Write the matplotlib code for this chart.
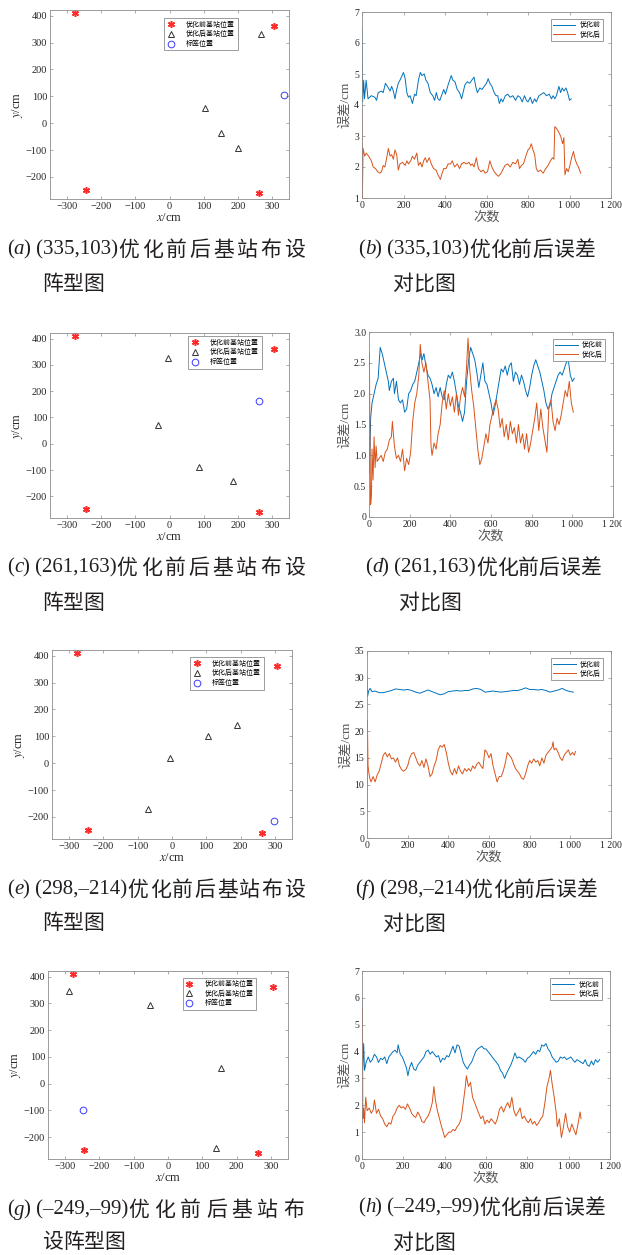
import matplotlib
matplotlib.use("Agg")
import matplotlib.pyplot as plt

plt.rcParams["font.family"] = ["Liberation Serif", "Noto Sans CJK SC"]
plt.rcParams["mathtext.fontset"] = "stix"
plt.rcParams["axes.unicode_minus"] = True

# base stations before optimisation (same in every layout)
before_x = [-278, -245, 305, 262]
before_y = [410, -248, 360, -260]

# optimised stations and tag position for each test point
a_tri_x = [103, 150, 200, 268]
a_tri_y = [55, -37, -93, 330]
a_tag = (335, 103)

c_tri_x = [-3, -35, 85, 185]
c_tri_y = [325, 70, -88, -140]
c_tag = (261, 163)

e_tri_x = [-70, -5, 105, 190]
e_tri_y = [-170, 20, 102, 142]
e_tag = (298, -214)

g_tri_x = [-288, -53, 155, 140]
g_tri_y = [345, 295, 57, -241]
g_tag = (-249, -99)

layout_labels = ["优化前基站位置", "优化后基站位置", "标签位置"]
series_labels = ["优化前", "优化后"]

# error curves, (step, error in cm)
b_before = [(0, 6.5), (3, 4.1), (8, 4.8), (12, 4.2), (20, 4.8), (29, 4.2), (45, 4.3), (62, 4.25),
            (70, 4.15), (78, 4.4), (94, 4.45), (102, 4.4), (113, 4.7), (127, 4.55), (135, 4.45),
            (143, 4.6), (151, 4.45), (159, 4.2), (167, 4.5), (175, 4.7), (183, 4.8), (200, 5.05),
            (208, 4.85), (216, 4.4), (224, 4.25), (232, 4.3), (243, 4.05), (253, 4.35), (261, 4.3),
            (272, 4.8), (281, 5.05), (289, 4.95), (300, 5.0), (308, 4.8), (318, 4.7), (329, 4.4),
            (341, 4.3), (350, 4.15), (358, 4.4), (366, 4.2), (375, 4.15), (383, 4.3), (394, 4.5),
            (402, 4.35), (415, 4.65), (430, 4.95), (438, 4.8), (448, 4.75), (459, 4.5), (470, 4.4),
            (480, 4.2), (487, 4.4), (496, 4.65), (508, 4.75), (519, 4.7), (529, 4.8), (540, 4.9),
            (548, 4.6), (556, 4.4), (568, 4.55), (578, 4.5), (589, 4.6), (600, 4.7), (608, 4.85),
            (616, 4.7), (626, 4.6), (637, 4.4), (646, 4.3), (654, 4.3), (662, 4.05), (670, 4.2),
            (678, 4.1), (691, 4.3), (702, 4.35), (714, 4.25), (727, 4.3), (740, 4.15), (751, 4.3),
            (762, 4.25), (772, 4.1), (783, 4.3), (792, 4.15), (800, 4.1), (811, 4.25), (821, 4.05),
            (832, 4.2), (840, 4.1), (853, 4.3), (865, 4.35), (876, 4.4), (889, 4.3), (902, 4.35),
            (913, 4.2), (921, 4.3), (929, 4.2), (937, 4.3), (949, 4.6), (957, 4.4), (965, 4.55),
            (973, 4.45), (983, 4.55), (991, 4.4), (1000, 4.15), (1008, 4.2)]
b_after = [(0, 3.9), (2, 1.0), (5, 2.6), (13, 2.35), (21, 2.45), (32, 2.35), (45, 2.2), (54, 2.0),
           (65, 1.95), (75, 1.85), (86, 1.8), (94, 1.85), (102, 2.05), (110, 2.0), (118, 2.25),
           (127, 2.6), (135, 2.35), (143, 2.4), (151, 2.25), (159, 2.55), (167, 2.4), (175, 1.9),
           (183, 2.1), (195, 2.15), (208, 2.05), (216, 2.2), (224, 2.1), (235, 2.2), (243, 2.35),
           (253, 2.25), (264, 2.45), (272, 2.05), (281, 2.15), (289, 2.0), (297, 2.2), (305, 2.3),
           (313, 2.15), (324, 2.3), (334, 2.1), (345, 1.95), (357, 1.9), (366, 1.75), (378, 1.6),
           (386, 1.8), (394, 1.95), (405, 1.95), (415, 2.1), (427, 2.1), (435, 2.2), (446, 2.0),
           (459, 2.1), (470, 1.95), (480, 2.1), (491, 2.15), (503, 2.1), (516, 2.15), (524, 2.05),
           (532, 2.1), (540, 2.0), (551, 2.3), (561, 1.95), (573, 1.85), (584, 1.9), (594, 1.8),
           (605, 1.85), (616, 2.2), (626, 2.0), (637, 1.85), (649, 1.75), (658, 1.7), (670, 1.8),
           (678, 1.9), (689, 2.05), (702, 2.1), (714, 2.0), (727, 2.15), (740, 2.1), (751, 2.25),
           (759, 1.95), (768, 2.05), (778, 2.1), (792, 2.4), (800, 2.55), (808, 2.6), (816, 2.75),
           (824, 2.55), (832, 2.4), (840, 1.95), (848, 1.85), (860, 1.9), (873, 1.8), (886, 1.95),
           (897, 2.05), (908, 2.2), (918, 2.3), (925, 2.25), (929, 3.3), (937, 3.25), (946, 3.15),
           (957, 3.0), (967, 2.75), (973, 2.95), (978, 1.75), (986, 1.95), (994, 1.85), (1002, 2.05),
           (1010, 2.3), (1019, 2.5), (1027, 2.25), (1035, 2.1), (1043, 2.0), (1054, 1.8)]

d_before = [(0, 1.3), (3, 0.7), (8, 1.6), (15, 1.85), (25, 2.0), (35, 2.15), (45, 2.25), (55, 2.75),
            (65, 2.65), (75, 2.5), (85, 2.35), (95, 2.2), (100, 2.05), (110, 2.2), (120, 2.25),
            (125, 2.0), (135, 2.2), (145, 1.9), (155, 1.85), (165, 1.9), (175, 1.7), (185, 1.75),
            (195, 2.0), (205, 2.05), (215, 2.15), (225, 2.2), (235, 2.35), (245, 2.5), (255, 2.65),
            (262, 2.55), (270, 2.65), (280, 2.45), (290, 2.3), (300, 2.25), (310, 2.15), (320, 2.0),
            (330, 2.1), (340, 1.95), (350, 2.1), (360, 1.95), (370, 1.9), (380, 2.15), (390, 2.3),
            (400, 2.25), (410, 2.35), (420, 2.2), (430, 2.0), (440, 1.8), (450, 1.7), (460, 1.55),
            (470, 1.7), (480, 2.2), (490, 2.55), (500, 2.75), (510, 2.65), (520, 2.55), (530, 2.35),
            (540, 2.1), (550, 2.3), (560, 2.5), (570, 2.2), (580, 2.15), (590, 2.0), (600, 1.85),
            (610, 1.65), (620, 1.8), (630, 2.0), (640, 2.2), (650, 2.4), (660, 2.35), (670, 2.45),
            (680, 2.3), (690, 2.45), (700, 2.5), (710, 2.2), (720, 2.35), (730, 2.3), (740, 2.15),
            (750, 2.3), (760, 2.2), (770, 2.05), (780, 1.95), (790, 2.1), (800, 2.3), (810, 2.45),
            (820, 2.55), (830, 2.45), (840, 2.35), (850, 2.2), (860, 2.05), (870, 1.85), (880, 1.75),
            (890, 1.8), (900, 2.0), (910, 2.1), (920, 2.2), (930, 2.3), (940, 2.35), (950, 2.3),
            (960, 2.4), (970, 2.5), (980, 2.55), (990, 2.3), (1000, 2.2), (1010, 2.25)]
d_after = [(0, 2.45), (2, 2.65), (5, 1.0), (8, 0.2), (12, 0.35), (15, 1.1), (20, 0.6), (25, 1.3),
           (30, 0.8), (35, 1.15), (40, 0.9), (50, 0.95), (60, 1.0), (70, 0.9), (80, 1.05), (90, 1.1),
           (100, 1.25), (110, 1.3), (115, 1.55), (125, 1.15), (135, 0.95), (145, 1.0), (155, 0.9),
           (165, 1.1), (175, 0.75), (185, 0.95), (195, 0.85), (205, 1.05), (215, 1.55), (225, 1.85),
           (235, 2.0), (245, 2.3), (252, 2.8), (260, 2.5), (270, 2.35), (280, 2.5), (290, 2.2),
           (300, 1.9), (305, 1.15), (310, 1.0), (320, 1.2), (330, 1.1), (340, 1.35), (350, 1.5),
           (360, 1.85), (370, 2.05), (380, 1.75), (390, 2.0), (400, 1.8), (410, 1.95), (420, 1.7),
           (430, 2.0), (440, 1.65), (450, 1.95), (460, 2.1), (470, 1.95), (480, 2.45), (487, 2.9),
           (495, 2.4), (505, 2.05), (515, 1.8), (525, 1.45), (535, 1.1), (545, 0.85), (555, 0.95),
           (565, 1.15), (575, 1.35), (585, 1.2), (595, 1.5), (605, 1.65), (615, 1.8), (625, 1.9),
           (635, 1.75), (645, 1.45), (655, 1.6), (665, 1.3), (675, 1.5), (685, 1.25), (695, 1.55),
           (705, 1.35), (715, 1.45), (725, 1.2), (735, 1.5), (745, 1.2), (755, 1.35), (765, 1.1),
           (775, 1.35), (785, 1.05), (795, 1.2), (805, 1.4), (815, 1.6), (825, 1.85), (835, 1.4),
           (845, 1.75), (855, 1.45), (865, 1.25), (875, 1.05), (885, 1.8), (895, 1.9), (905, 1.55),
           (915, 1.4), (925, 1.6), (935, 1.5), (945, 1.65), (955, 1.85), (965, 2.05), (975, 1.95),
           (985, 2.2), (995, 1.85), (1005, 1.7)]

f_before = [(0, 30.0), (3, 26.5), (8, 27.5), (15, 28.0), (25, 27.4), (40, 27.5), (60, 27.2), (80, 27.2),
            (100, 27.4), (120, 27.6), (140, 27.9), (160, 27.8), (180, 27.7), (200, 27.8), (220, 27.6),
            (240, 27.3), (260, 27.1), (280, 27.4), (300, 27.7), (320, 27.4), (340, 27.1), (360, 26.8),
            (380, 27.0), (400, 27.4), (420, 27.5), (440, 27.6), (460, 27.5), (480, 27.6), (500, 27.6),
            (520, 27.9), (540, 28.0), (560, 27.8), (580, 27.3), (600, 27.4), (620, 27.5), (640, 27.4),
            (660, 27.3), (680, 27.4), (700, 27.5), (720, 27.6), (740, 27.6), (760, 27.8), (780, 28.1),
            (800, 27.8), (820, 27.8), (840, 27.7), (860, 27.8), (880, 27.6), (900, 27.3), (920, 27.5),
            (940, 27.7), (960, 28.0), (980, 27.6), (1000, 27.4), (1015, 27.3)]
f_after = [(0, 5.0), (2, 22.0), (5, 13.5), (10, 12.0), (15, 11.0), (20, 10.5), (30, 11.5), (40, 10.5),
           (50, 11.8), (60, 12.5), (70, 14.0), (80, 15.5), (90, 16.0), (100, 15.2), (110, 15.8),
           (120, 14.8), (130, 15.0), (140, 14.2), (150, 15.0), (160, 13.5), (170, 12.8), (180, 12.5),
           (190, 12.8), (200, 13.5), (210, 15.0), (220, 15.8), (230, 16.0), (240, 15.0), (250, 14.0),
           (260, 13.5), (270, 14.5), (280, 13.2), (290, 14.8), (300, 13.5), (310, 11.5), (320, 12.0),
           (330, 13.5), (340, 14.5), (350, 16.5), (360, 17.3), (370, 17.0), (380, 17.5), (390, 16.0),
           (400, 14.0), (410, 12.5), (420, 11.8), (430, 13.0), (440, 12.0), (450, 13.5), (460, 12.5),
           (470, 12.0), (480, 13.0), (490, 12.5), (500, 13.0), (510, 12.5), (520, 13.5), (530, 13.0),
           (540, 13.8), (550, 14.2), (560, 13.5), (570, 13.0), (580, 16.5), (590, 16.0), (600, 15.0),
           (610, 15.8), (620, 13.5), (630, 12.0), (640, 10.5), (650, 11.5), (660, 11.5), (670, 12.5),
           (680, 14.0), (690, 16.0), (700, 15.5), (710, 15.0), (720, 14.0), (730, 13.0), (740, 12.5),
           (750, 12.0), (760, 11.2), (770, 11.0), (780, 12.0), (790, 13.5), (800, 14.5), (810, 14.0),
           (820, 14.8), (830, 14.2), (840, 14.5), (850, 13.5), (860, 15.0), (870, 14.0), (880, 15.5),
           (890, 16.0), (900, 16.5), (910, 17.0), (915, 18.0), (920, 16.5), (930, 16.8), (940, 16.0),
           (950, 15.0), (960, 14.5), (970, 15.5), (980, 16.0), (990, 16.5), (1000, 15.5), (1010, 16.0),
           (1020, 15.5), (1025, 16.2)]

h_before = [(0, 6.0), (3, 3.3), (8, 4.3), (12, 3.3), (20, 3.6), (30, 3.8), (40, 3.6), (50, 3.7),
            (60, 3.9), (70, 3.8), (80, 3.6), (90, 3.75), (100, 3.7), (110, 3.8), (120, 3.55), (130, 3.8),
            (140, 3.9), (150, 4.0), (160, 4.05), (170, 3.95), (175, 4.25), (185, 3.9), (195, 3.8),
            (205, 3.6), (215, 3.4), (222, 3.1), (230, 3.4), (240, 3.6), (250, 3.35), (260, 3.3),
            (270, 3.5), (280, 3.6), (290, 3.7), (300, 3.8), (310, 4.0), (320, 4.05), (330, 3.9),
            (340, 4.0), (350, 3.9), (360, 3.8), (370, 3.85), (380, 3.6), (390, 3.75), (400, 3.7),
            (410, 3.85), (420, 3.8), (430, 4.0), (440, 4.2), (450, 3.95), (460, 4.25), (470, 4.2),
            (480, 3.9), (490, 3.6), (500, 3.45), (510, 3.35), (520, 3.5), (530, 3.6), (540, 3.8),
            (550, 4.0), (560, 4.1), (570, 4.15), (580, 4.2), (590, 4.1), (600, 4.1), (610, 4.0),
            (620, 3.9), (630, 3.8), (640, 3.7), (650, 3.6), (660, 3.5), (670, 3.3), (680, 3.2),
            (690, 3.0), (700, 3.2), (710, 3.35), (720, 3.5), (730, 3.7), (740, 3.95), (750, 3.75),
            (760, 3.8), (770, 3.75), (780, 3.7), (790, 3.6), (800, 3.75), (810, 3.8), (820, 3.9),
            (830, 4.0), (840, 3.9), (850, 4.05), (860, 4.0), (870, 4.25), (880, 4.2), (890, 4.3),
            (900, 4.1), (910, 4.0), (920, 3.8), (930, 3.7), (940, 3.6), (950, 3.65), (960, 3.8),
            (970, 3.75), (980, 3.8), (990, 3.7), (1000, 3.75), (1010, 3.8), (1020, 3.7), (1030, 3.6),
            (1040, 3.7), (1050, 3.65), (1060, 3.6), (1070, 3.55), (1080, 3.7), (1090, 3.5),
            (1100, 3.45), (1110, 3.65), (1120, 3.5), (1130, 3.7), (1140, 3.6), (1150, 3.7)]
h_after = [(0, 3.3), (2, 5.6), (4, 1.5), (8, 1.9), (12, 1.35), (18, 2.3), (25, 1.8), (35, 1.9),
           (45, 1.7), (55, 1.85), (60, 2.2), (70, 1.7), (80, 1.85), (90, 1.6), (100, 1.5), (110, 1.3),
           (120, 1.2), (130, 1.35), (140, 1.3), (150, 1.6), (160, 1.7), (170, 1.9), (180, 2.0),
           (190, 1.9), (200, 1.95), (210, 1.85), (220, 2.05), (230, 1.9), (240, 1.7), (250, 1.6),
           (260, 1.55), (270, 1.75), (280, 1.6), (290, 1.4), (300, 1.35), (310, 1.5), (320, 1.6),
           (330, 1.8), (340, 2.1), (348, 2.7), (355, 2.2), (365, 1.8), (375, 1.5), (385, 1.2),
           (395, 0.95), (400, 0.8), (410, 0.9), (420, 1.0), (430, 1.0), (440, 1.1), (450, 1.05),
           (460, 1.2), (470, 1.3), (480, 1.5), (490, 2.1), (500, 2.7), (505, 3.1), (515, 2.7),
           (525, 2.85), (535, 2.3), (545, 2.1), (555, 1.9), (565, 1.7), (575, 1.5), (585, 1.6),
           (595, 1.3), (605, 1.45), (615, 1.35), (625, 1.5), (635, 1.4), (645, 1.3), (655, 1.5),
           (665, 1.85), (675, 1.95), (685, 1.75), (695, 1.95), (705, 2.1), (715, 1.9), (725, 2.3),
           (735, 1.8), (745, 1.6), (755, 1.75), (765, 1.9), (775, 1.5), (785, 1.6), (795, 1.45),
           (805, 1.35), (815, 1.5), (825, 1.3), (835, 1.4), (845, 1.25), (855, 1.35), (865, 1.5),
           (875, 1.6), (885, 2.1), (895, 2.7), (905, 3.0), (912, 3.3), (920, 2.8), (930, 2.3),
           (940, 1.7), (945, 1.2), (955, 1.5), (965, 0.8), (975, 1.2), (985, 1.7), (995, 1.2),
           (1005, 1.0), (1015, 1.3), (1025, 1.1), (1035, 0.9), (1045, 1.3), (1055, 1.75), (1060, 1.5)]

W, H = 622, 1255
fig = plt.figure(figsize=(W / 100, H / 100), dpi=100)

SPINE = "#8c8c8c"
TEXT = "#262626"
CJK = "Noto Sans CJK SC"
SERIF = "Liberation Serif"


def px_axes(left, top, right, bottom):
    return fig.add_axes([left / W, 1 - bottom / H, (right - left) / W, (bottom - top) / H])


def style_axes(ax, size):
    for s in ax.spines.values():
        s.set_color(SPINE)
        s.set_linewidth(0.6)
    ax.tick_params(direction="in", length=2.5, width=0.5, top=True, right=True,
                   color=SPINE, labelcolor=TEXT, labelsize=size, pad=2)


def draw_layout(ax, tri_x, tri_y, tag, anchor):
    ax.plot(before_x, before_y, ls="none", marker=(6, 2, 0), ms=5, mew=1.1,
            color="#ff2a2a", label=layout_labels[0])
    ax.plot(tri_x, tri_y, ls="none", marker="^", ms=5, mew=0.7, mfc="none",
            mec="#333333", label=layout_labels[1])
    ax.plot([tag[0]], [tag[1]], ls="none", marker="o", ms=4.8, mew=0.7, mfc="none",
            mec="#3a3aff", label=layout_labels[2])
    ax.set_xlim(-350, 350)
    ax.set_ylim(-282, 421)
    ax.set_xticks(range(-300, 301, 100))
    ax.set_yticks(range(-200, 401, 100))
    style_axes(ax, 7.5)
    ax.set_xlabel("$x$/cm", fontsize=9, color=TEXT, labelpad=1)
    ax.set_ylabel("$y$/cm", fontsize=9, color=TEXT, labelpad=1)
    leg = ax.legend(loc="upper right", bbox_to_anchor=anchor, prop={"family": CJK, "size": 5},
                    fancybox=False, edgecolor=SPINE, handlelength=1.2, handletextpad=1.6,
                    borderpad=0.35, labelspacing=0.25, borderaxespad=0, framealpha=1)
    leg.get_frame().set_linewidth(0.6)


def draw_errors(ax, before, after, ylim, yticks, yticklabels=None):
    bx, by = zip(*before)
    px, py = zip(*after)
    ax.plot(bx, by, color="#0072BD", lw=0.7, label=series_labels[0])
    ax.plot(px, py, color="#D95319", lw=0.7, label=series_labels[1])
    ax.set_xlim(0, 1200)
    ax.set_ylim(*ylim)
    ax.set_xticks(range(0, 1201, 200))
    ax.set_xticklabels(["0", "200", "400", "600", "800", "1 000", "1 200"])
    ax.set_yticks(yticks)
    if yticklabels is not None:
        ax.set_yticklabels(yticklabels)
    style_axes(ax, 7)
    ax.set_xlabel("次数", family=[SERIF, CJK], fontsize=9.5, color="#555555", labelpad=1)
    ax.set_ylabel("误差/cm", family=[SERIF, CJK], fontsize=9.5, color="#555555", labelpad=2)
    leg = ax.legend(loc="upper right", bbox_to_anchor=(0.968, 0.962),
                    prop={"family": CJK, "size": 5}, fancybox=False, edgecolor=SPINE,
                    handlelength=3.2, handletextpad=0.6, borderpad=0.35, labelspacing=0.2,
                    borderaxespad=0, framealpha=1)
    leg.get_frame().set_linewidth(0.6)


renderer = fig.canvas.get_renderer()


def caption(x0, yc, parts, x_end=None, size=15):
    # lay text out piece by piece so Latin, italic and CJK parts get their own fonts;
    # with x_end the CJK run is spread out to fill the line
    items = []
    for text, kind in parts:
        if kind == "cjk":
            items.extend((ch, kind) for ch in text)
        else:
            items.append((text, kind))
    objs = []
    for text, kind in items:
        kw = dict(fontsize=size, color="#231f20", va="center", ha="left")
        if kind == "cjk":
            kw["family"] = CJK
        else:
            kw["family"] = SERIF
            if kind == "italic":
                kw["style"] = "italic"
        t = fig.text(0, 1 - yc / H, text, **kw)
        objs.append((t, kind, t.get_window_extent(renderer).width))
    total = sum(w for _, _, w in objs)
    gaps = [i for i in range(1, len(objs)) if objs[i][1] == "cjk" and objs[i - 1][1] == "cjk"]
    extra = 0.0
    if x_end is not None and gaps:
        extra = max(0.0, (x_end - x0 - total) / len(gaps))
    x = x0
    for i, (t, kind, w) in enumerate(objs):
        if i in gaps:
            x += extra
        t.set_x(x / W)
        x += w


ax_a = px_axes(50, 10, 289, 199)
draw_layout(ax_a, a_tri_x, a_tri_y, a_tag, (0.785, 0.957))
ax_c = px_axes(50, 333, 289, 518)
draw_layout(ax_c, c_tri_x, c_tri_y, c_tag, (0.885, 0.982))
ax_e = px_axes(52, 650, 292, 839)
draw_layout(ax_e, e_tri_x, e_tri_y, e_tag, (0.882, 0.962))
ax_g = px_axes(48, 971, 288, 1159)
draw_layout(ax_g, g_tri_x, g_tri_y, g_tag, (0.866, 0.965))

ax_b = px_axes(362, 12, 611, 198)
draw_errors(ax_b, b_before, b_after, (1, 7), range(1, 8))
ax_d = px_axes(369, 332, 613, 517)
draw_errors(ax_d, d_before, d_after, (0, 3.0), [0, 0.5, 1.0, 1.5, 2.0, 2.5, 3.0],
            ["0", "0.5", "1.0", "1.5", "2.0", "2.5", "3.0"])
ax_f = px_axes(367, 651, 611, 838)
draw_errors(ax_f, f_before, f_after, (0, 35), range(0, 36, 5))
ax_h = px_axes(362, 971, 610, 1159)
draw_errors(ax_h, h_before, h_after, (0, 7), range(0, 8))

# figure captions
caption(7, 250, [("(", "latin"), ("a", "italic"), (") (335,103)", "latin"),
                 ("优化前后基站布设", "cjk")], x_end=305)
caption(42, 284, [("阵型图", "cjk")])
caption(358, 250, [("(", "latin"), ("b", "italic"), (") (335,103)", "latin"),
                   ("优化前后误差", "cjk")])
caption(392, 284, [("对比图", "cjk")])

caption(7, 568, [("(", "latin"), ("c", "italic"), (") (261,163)", "latin"),
                 ("优化前后基站布设", "cjk")], x_end=305)
caption(42, 603, [("阵型图", "cjk")])
caption(365, 568, [("(", "latin"), ("d", "italic"), (") (261,163)", "latin"),
                   ("优化前后误差", "cjk")])
caption(398, 603, [("对比图", "cjk")])

caption(7, 890, [("(", "latin"), ("e", "italic"), (") (298,–214)", "latin"),
                 ("优化前后基站布设", "cjk")], x_end=305)
caption(42, 923, [("阵型图", "cjk")])
caption(355, 890, [("(", "latin"), ("f", "italic"), (") (298,–214)", "latin"),
                   ("优化前后误差", "cjk")])
caption(382, 924, [("对比图", "cjk")])

caption(7, 1210, [("(", "latin"), ("g", "italic"), (") (–249,–99)", "latin"),
                  ("优化前后基站布", "cjk")], x_end=304)
caption(42, 1242, [("设阵型图", "cjk")])
caption(358, 1208, [("(", "latin"), ("h", "italic"), (") (–249,–99)", "latin"),
                    ("优化前后误差", "cjk")])
caption(392, 1243, [("对比图", "cjk")])

fig.savefig("out.png", dpi=100)
